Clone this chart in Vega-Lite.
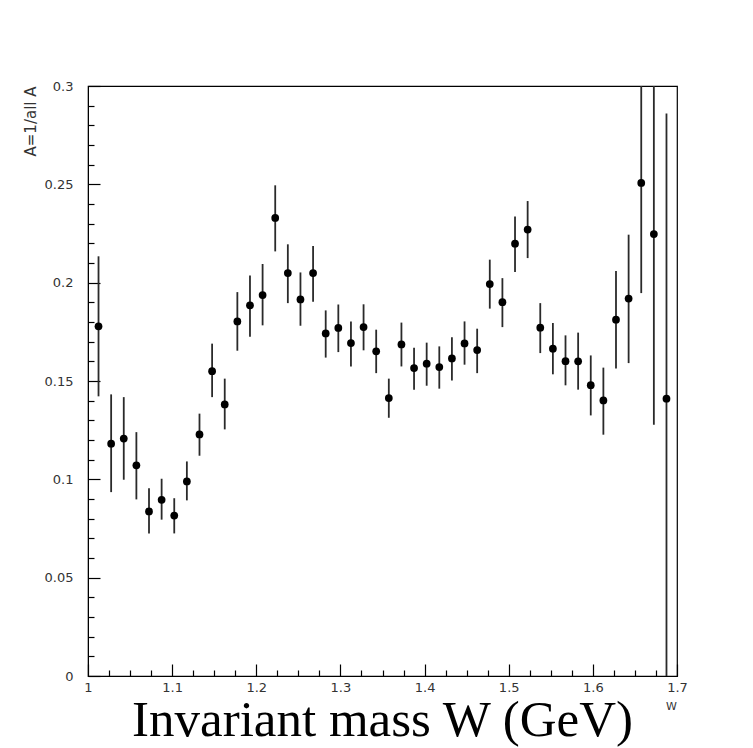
{
  "$schema": "https://vega.github.io/schema/vega-lite/v6.json",
  "width": 589,
  "height": 590,
  "autosize": {"type": "none"},
  "padding": {"left": 88, "top": 86, "right": 76, "bottom": 72},
  "background": "white",
  "title": {
    "text": "Invariant mass W (GeV)",
    "orient": "bottom",
    "anchor": "middle",
    "frame": "group",
    "font": "Liberation Serif",
    "fontSize": 51,
    "fontWeight": "normal",
    "color": "#000",
    "offset": -15
  },
  "config": {
    "view": {"stroke": "#000", "strokeWidth": 1.2, "fill": "white"},
    "axis": {
      "grid": false,
      "domainColor": "#000",
      "tickColor": "#000",
      "tickWidth": 1.2,
      "tickCount": 100,
      "labelFont": "DejaVu Sans",
      "labelFontSize": 13,
      "labelColor": "#333",
      "labelOverlap": false,
      "labelFlush": false,
      "labelBound": false,
      "titleFont": "DejaVu Sans",
      "titleFontWeight": "normal",
      "titleColor": "#333"
    }
  },
  "data": {
    "values": [
      {"W": 1.0125, "A": 0.1778, "lo": 0.1422, "hi": 0.2134},
      {"W": 1.0275, "A": 0.1181, "lo": 0.0935, "hi": 0.1432},
      {"W": 1.0425, "A": 0.1207, "lo": 0.0998, "hi": 0.1418},
      {"W": 1.0575, "A": 0.1071, "lo": 0.0898, "hi": 0.1240},
      {"W": 1.0725, "A": 0.0837, "lo": 0.0725, "hi": 0.0955},
      {"W": 1.0875, "A": 0.0896, "lo": 0.0795, "hi": 0.1003},
      {"W": 1.1025, "A": 0.0816, "lo": 0.0725, "hi": 0.0904},
      {"W": 1.1175, "A": 0.0989, "lo": 0.0893, "hi": 0.1091},
      {"W": 1.1325, "A": 0.1228, "lo": 0.1120, "hi": 0.1334},
      {"W": 1.1475, "A": 0.1550, "lo": 0.1418, "hi": 0.1690},
      {"W": 1.1625, "A": 0.1381, "lo": 0.1254, "hi": 0.1512},
      {"W": 1.1775, "A": 0.1803, "lo": 0.1654, "hi": 0.1952},
      {"W": 1.1925, "A": 0.1885, "lo": 0.1725, "hi": 0.2037},
      {"W": 1.2075, "A": 0.1937, "lo": 0.1783, "hi": 0.2095},
      {"W": 1.2225, "A": 0.2329, "lo": 0.2159, "hi": 0.2495},
      {"W": 1.2375, "A": 0.2049, "lo": 0.1896, "hi": 0.2195},
      {"W": 1.2525, "A": 0.1915, "lo": 0.1781, "hi": 0.2052},
      {"W": 1.2675, "A": 0.2049, "lo": 0.1903, "hi": 0.2186},
      {"W": 1.2825, "A": 0.1742, "lo": 0.1619, "hi": 0.1859},
      {"W": 1.2975, "A": 0.1770, "lo": 0.1647, "hi": 0.1889},
      {"W": 1.3125, "A": 0.1693, "lo": 0.1574, "hi": 0.1803},
      {"W": 1.3275, "A": 0.1774, "lo": 0.1656, "hi": 0.1890},
      {"W": 1.3425, "A": 0.1651, "lo": 0.1540, "hi": 0.1761},
      {"W": 1.3575, "A": 0.1413, "lo": 0.1313, "hi": 0.1512},
      {"W": 1.3725, "A": 0.1686, "lo": 0.1574, "hi": 0.1797},
      {"W": 1.3875, "A": 0.1566, "lo": 0.1456, "hi": 0.1669},
      {"W": 1.4025, "A": 0.1588, "lo": 0.1476, "hi": 0.1695},
      {"W": 1.4175, "A": 0.1571, "lo": 0.1461, "hi": 0.1676},
      {"W": 1.4325, "A": 0.1615, "lo": 0.1503, "hi": 0.1723},
      {"W": 1.4475, "A": 0.1691, "lo": 0.1583, "hi": 0.1803},
      {"W": 1.4625, "A": 0.1657, "lo": 0.1540, "hi": 0.1766},
      {"W": 1.4775, "A": 0.1993, "lo": 0.1868, "hi": 0.2117},
      {"W": 1.4925, "A": 0.1901, "lo": 0.1774, "hi": 0.2023},
      {"W": 1.5075, "A": 0.2198, "lo": 0.2054, "hi": 0.2337},
      {"W": 1.5225, "A": 0.2270, "lo": 0.2125, "hi": 0.2415},
      {"W": 1.5375, "A": 0.1771, "lo": 0.1642, "hi": 0.1896},
      {"W": 1.5525, "A": 0.1664, "lo": 0.1534, "hi": 0.1795},
      {"W": 1.5675, "A": 0.1601, "lo": 0.1478, "hi": 0.1732},
      {"W": 1.5825, "A": 0.1600, "lo": 0.1456, "hi": 0.1746},
      {"W": 1.5975, "A": 0.1479, "lo": 0.1325, "hi": 0.1630},
      {"W": 1.6125, "A": 0.1401, "lo": 0.1227, "hi": 0.1568},
      {"W": 1.6275, "A": 0.1812, "lo": 0.1563, "hi": 0.2059},
      {"W": 1.6425, "A": 0.1919, "lo": 0.1591, "hi": 0.2244},
      {"W": 1.6575, "A": 0.2507, "lo": 0.1947, "hi": 0.3067},
      {"W": 1.6725, "A": 0.2247, "lo": 0.1278, "hi": 0.3216},
      {"W": 1.6875, "A": 0.1410, "lo": -0.0040, "hi": 0.2860}
    ]
  },
  "layer": [
    {
      "mark": {"type": "rule", "clip": true, "color": "#2a2a2a", "strokeWidth": 1.8},
      "encoding": {
        "x": {
          "field": "W", "type": "quantitative",
          "scale": {"domain": [1, 1.7], "nice": false, "zero": false},
          "axis": {
            "title": "W",
            "titleFontSize": 11,
            "titleX": 583,
            "titleY": 30,
            "titleAlign": "center",
            "titleBaseline": "middle",
            "tickCount": 100,
            "values": [1, 1.025, 1.05, 1.075, 1.1, 1.125, 1.15, 1.175, 1.2, 1.225, 1.25, 1.275, 1.3, 1.325, 1.35, 1.375, 1.4, 1.425, 1.45, 1.475, 1.5, 1.525, 1.55, 1.575, 1.6, 1.625, 1.65, 1.675, 1.7],
            "labelExpr": "round(datum.value*1000) % 100 === 0 ? format(datum.value, '~g') : ''",
            "tickSize": {"condition": {"test": "round(datum.value*1000) % 100 === 0", "value": -12}, "value": -6},
            "labelPadding": 17
          }
        },
        "y": {
          "field": "lo", "type": "quantitative",
          "scale": {"domain": [0, 0.3], "nice": false},
          "axis": {
            "title": "A=1/all A",
            "titleFontSize": 15,
            "titleAngle": -90,
            "titleX": -58,
            "titleY": 0,
            "titleAlign": "right",
            "titleBaseline": "middle",
            "tickCount": 100,
            "values": [0, 0.01, 0.02, 0.03, 0.04, 0.05, 0.06, 0.07, 0.08, 0.09, 0.1, 0.11, 0.12, 0.13, 0.14, 0.15, 0.16, 0.17, 0.18, 0.19, 0.2, 0.21, 0.22, 0.23, 0.24, 0.25, 0.26, 0.27, 0.28, 0.29, 0.3],
            "labelExpr": "round(datum.value*100) % 5 === 0 ? format(datum.value, '~g') : ''",
            "tickSize": {"condition": {"test": "round(datum.value*100) % 5 === 0", "value": -12}, "value": -6},
            "labelPadding": 27
          }
        },
        "y2": {"field": "hi"}
      }
    },
    {
      "mark": {"type": "point", "filled": true, "shape": "circle", "size": 60, "color": "#000", "opacity": 1, "clip": true},
      "encoding": {
        "x": {"field": "W", "type": "quantitative"},
        "y": {"field": "A", "type": "quantitative"}
      }
    }
  ]
}
